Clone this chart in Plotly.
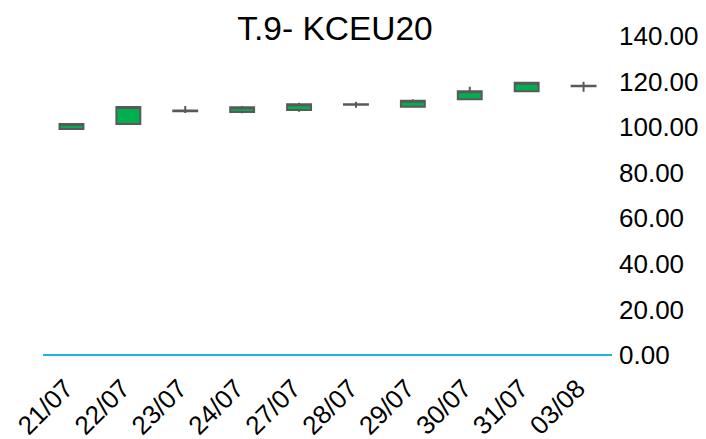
import plotly.graph_objects as go

dates = ["21/07", "22/07", "23/07", "24/07", "27/07", "28/07", "29/07", "30/07", "31/07", "03/08"]
open_ = [99.2, 101.4, 107.0, 106.6, 107.5, 109.8, 109.0, 112.2, 115.8, 118.0]
high_ = [101.4, 108.8, 109.3, 109.3, 110.7, 111.1, 112.2, 117.7, 119.5, 119.9]
low_ = [99.2, 100.9, 106.2, 106.1, 106.8, 108.5, 109.0, 112.2, 115.3, 115.5]
close_ = [101.4, 108.8, 107.3, 108.7, 110.1, 110.0, 111.6, 115.7, 119.5, 118.2]
y_ticks = [0, 20, 40, 60, 80, 100, 120, 140]

GREEN = "#00B050"
GRAY = "#595959"

W, H = 698, 431

fig = go.Figure(go.Candlestick(
    x=dates, open=open_, high=high_, low=low_, close=close_,
    increasing=dict(fillcolor=GREEN, line=dict(color=GRAY, width=2)),
    decreasing=dict(fillcolor=GREEN, line=dict(color=GRAY, width=2)),
    whiskerwidth=0,
    showlegend=False,
))

fig.update_layout(
    width=W, height=H,
    margin=dict(l=35, r=94, t=28, b=84),
    paper_bgcolor="white", plot_bgcolor="white",
    font=dict(family="Liberation Sans, Arial, sans-serif", color="black"),
    title=dict(text="T.9- KCEU20", x=327/W, xanchor="center", y=1 - 20/H, yanchor="middle",
               font=dict(size=33.5, color="black")),
    boxgap=0.58, boxgroupgap=0,
    xaxis=dict(type="category", rangeslider=dict(visible=False), showgrid=False, showline=False,
               zeroline=False, tickangle=-45, tickfont=dict(size=26), ticks="", automargin=False,
               ticklabelstandoff=12, ticklabelshift=-6),
    yaxis=dict(side="right", range=[0, 140], tickvals=y_ticks, tickformat=".2f", showgrid=False,
               zeroline=True, zerolinecolor="#1FB2E8", zerolinewidth=1.5, showline=False,
               tickfont=dict(size=26), ticks="", automargin=False, ticklabelstandoff=6),
)

fig.write_html("out.html")
